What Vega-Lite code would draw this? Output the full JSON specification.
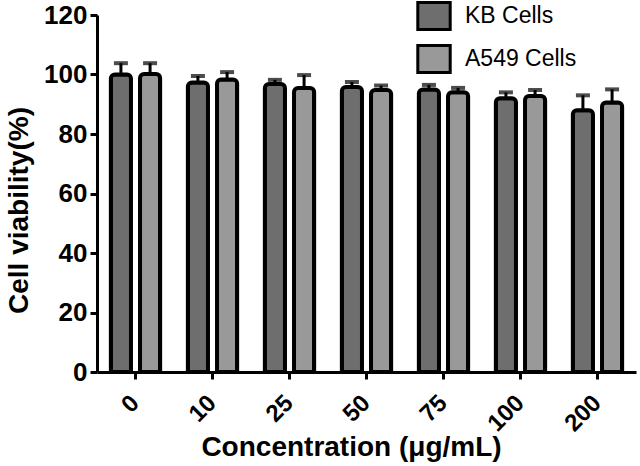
{
  "$schema": "https://vega.github.io/schema/vega-lite/v6.json",
  "width": 539,
  "height": 357,
  "autosize": "none",
  "padding": {"left": 97, "top": 15, "right": 4, "bottom": 94},
  "background": "white",
  "config": {"view": {"stroke": null}, "font": "Liberation Sans"},
  "data": {"values": [
    {"conc": "0", "cell": "KB Cells", "v": 100.0, "hi": 103.8},
    {"conc": "0", "cell": "A549 Cells", "v": 100.2, "hi": 103.8},
    {"conc": "10", "cell": "KB Cells", "v": 97.3, "hi": 99.5},
    {"conc": "10", "cell": "A549 Cells", "v": 98.3, "hi": 100.8},
    {"conc": "25", "cell": "KB Cells", "v": 96.8, "hi": 98.2},
    {"conc": "25", "cell": "A549 Cells", "v": 95.5, "hi": 99.8},
    {"conc": "50", "cell": "KB Cells", "v": 95.8, "hi": 97.5},
    {"conc": "50", "cell": "A549 Cells", "v": 94.8, "hi": 96.3},
    {"conc": "75", "cell": "KB Cells", "v": 95.0, "hi": 96.5},
    {"conc": "75", "cell": "A549 Cells", "v": 94.0, "hi": 95.5},
    {"conc": "100", "cell": "KB Cells", "v": 92.0, "hi": 94.0},
    {"conc": "100", "cell": "A549 Cells", "v": 92.8, "hi": 94.8},
    {"conc": "200", "cell": "KB Cells", "v": 88.0, "hi": 93.0},
    {"conc": "200", "cell": "A549 Cells", "v": 90.6, "hi": 95.0}
  ]},
  "encoding": {
    "x": {
      "field": "conc", "type": "nominal", "sort": null,
      "scale": {"paddingInner": 0.36, "paddingOuter": 0.18},
      "title": "Concentration (μg/mL)",
      "axis": {
        "labelAngle": -45, "labelAlign": "right", "labelBaseline": "middle",
        "labelFontSize": 24, "labelFontWeight": "bold", "labelColor": "black",
        "labelPadding": 20,
        "titleFontSize": 28, "titleFontWeight": "bold", "titleColor": "black",
        "titleX": 254, "titleY": 83, "titleAlign": "center", "titleBaseline": "alphabetic",
        "domainColor": "black", "domainWidth": 3,
        "tickColor": "black", "tickWidth": 3, "tickSize": 7
      }
    },
    "xOffset": {"field": "cell", "type": "nominal", "sort": ["KB Cells", "A549 Cells"], "scale": {"paddingInner": 0.31, "paddingOuter": 0}},
    "y": {
      "field": "v", "type": "quantitative",
      "scale": {"domain": [0, 120]},
      "title": "Cell viability(%)",
      "axis": {
        "values": [0, 20, 40, 60, 80, 100, 120],
        "grid": false,
        "labelFontSize": 26, "labelFontWeight": "bold", "labelColor": "black", "labelPadding": 3,
        "titleFontSize": 28, "titleFontWeight": "bold", "titleColor": "black", "titlePadding": 10,
        "titleY": 195,
        "domainColor": "black", "domainWidth": 3,
        "tickColor": "black", "tickWidth": 3, "tickSize": 7
      }
    }
  },
  "layer": [
    {
      "mark": {"type": "rule", "strokeWidth": 3, "color": "black"},
      "encoding": {"y2": {"field": "hi"}}
    },
    {
      "mark": {"type": "tick", "thickness": 4, "size": 14, "color": "black"},
      "encoding": {"y": {"field": "hi", "type": "quantitative", "title": "Cell viability(%)"}}
    },
    {
      "mark": {"type": "bar", "stroke": "black", "strokeWidth": 4, "cornerRadiusTopLeft": 4, "cornerRadiusTopRight": 4},
      "encoding": {
        "fill": {
          "field": "cell", "type": "nominal", "sort": ["KB Cells", "A549 Cells"],
          "scale": {"domain": ["KB Cells", "A549 Cells"], "range": ["#6e6e6e", "#999999"]},
          "legend": {
            "orient": "none", "legendX": 322, "legendY": -14, "direction": "vertical",
            "title": null,
            "symbolType": "M-1.2,-1H1.2V1H-1.2Z", "symbolSize": 729,
            "symbolStrokeColor": "black", "symbolStrokeWidth": 3,
            "labelFontSize": 23, "labelColor": "black", "labelOffset": 16,
            "rowPadding": 3
          }
        }
      }
    }
  ]
}
